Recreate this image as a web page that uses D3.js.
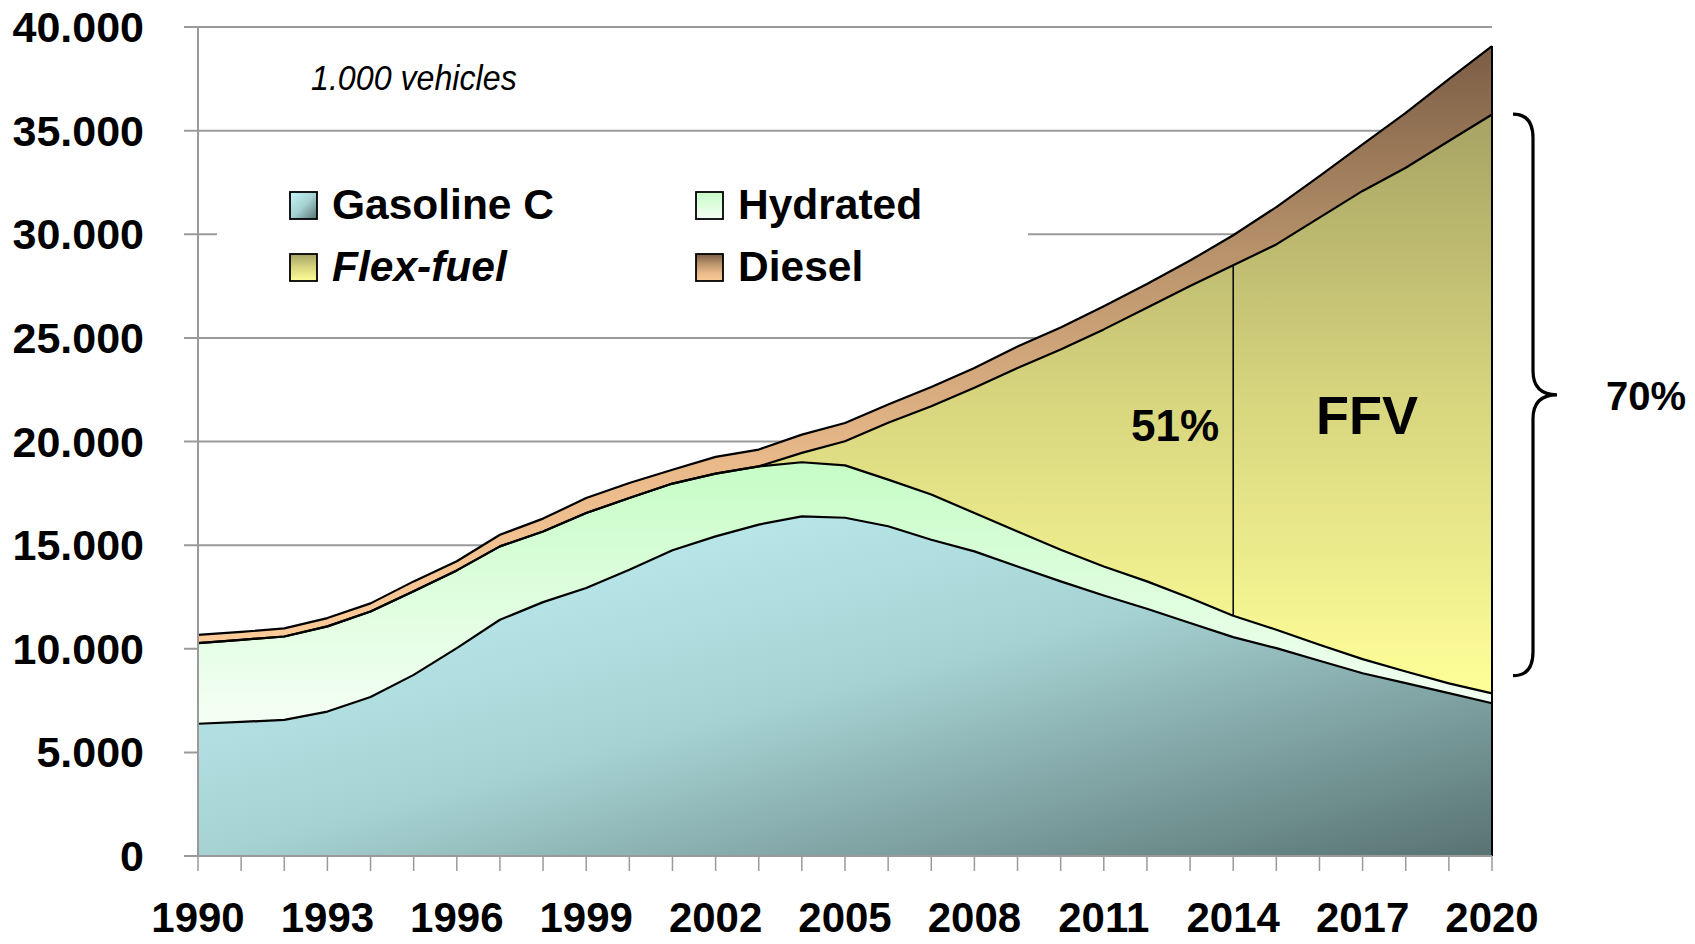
<!DOCTYPE html>
<html>
<head>
<meta charset="utf-8">
<script src="https://cdn.jsdelivr.net/npm/d3@7"></script>
<style>
  html, body { margin: 0; padding: 0; background: #fff; }
  svg { display: block; }
  text { font-family: "Liberation Sans", Arial, sans-serif; }
</style>
</head>
<body>
<svg id="chart" width="1695" height="944"></svg>
<script>
// ---- data (1.000 vehicles) ----
const years = [1990,1991,1992,1993,1994,1995,1996,1997,1998,1999,2000,2001,2002,2003,2004,2005,
               2006,2007,2008,2009,2010,2011,2012,2013,2014,2015,2016,2017,2018,2019,2020];
const gasolineC = [6380,6470,6570,6970,7670,8740,10030,11400,12250,12930,13810,14750,15420,15990,16390,16320,
                   15910,15260,14700,13970,13250,12570,11930,11240,10560,10030,9420,8820,8340,7860,7370];
const hydrated  = [3890,3960,4020,4110,4130,4030,3750,3540,3410,3620,3460,3220,3030,2810,2610,2530,
                   2250,2180,1850,1690,1530,1400,1320,1210,1030,890,770,680,560,470,480];
const flexFuel  = [0,0,0,0,0,0,0,0,0,0,0,0,0,0,450,1160,
                   2740,4260,6040,7890,9660,11440,13200,15050,16910,18590,20610,22590,24310,26170,27930];
const diesel    = [400,380,390,400,390,480,440,560,620,720,730,670,810,810,880,880,
                   880,930,960,1030,1060,1120,1150,1230,1450,1800,2000,2250,2650,2980,3300];
const seriesNames = ["Gasoline C", "Hydrated", "Flex-fuel", "Diesel"];
const yTicks = [0,5000,10000,15000,20000,25000,30000,35000,40000];
const xLabelYears = [1990,1993,1996,1999,2002,2005,2008,2011,2014,2017,2020];
const unitLabel = "1.000 vehicles";
const shareLabel2014 = "51%";
const ffvLabel = "FFV";
const shareLabel2020 = "70%";
const braceRange = [8700, 35800];

// ---- setup ----
const svg = d3.select("#chart");
const x = d3.scaleLinear().domain([1990, 2020]).range([198, 1492]);
const y = d3.scaleLinear().domain([0, 40000]).range([856, 27]);
const fmt = v => v === 0 ? "0" : d3.format(",")(v).replace(/,/g, ".");

const rows = years.map((yr, i) => ({
  year: yr, "Gasoline C": gasolineC[i], "Hydrated": hydrated[i],
  "Flex-fuel": flexFuel[i], "Diesel": diesel[i]
}));
const stack = d3.stack().keys(seriesNames)(rows);

// ---- gradients ----
const defs = svg.append("defs");
function grad(id, x2, y2, stops) {
  const g = defs.append("linearGradient").attr("id", id)
    .attr("x1", 0).attr("y1", 0).attr("x2", x2).attr("y2", y2);
  stops.forEach(s => g.append("stop").attr("offset", s[0]).attr("stop-color", s[1]));
}
grad("gGas", 1, 1, [[0, "#c6f6f9"], [0.5, "#a6d2d3"], [1, "#587272"]]);
grad("gHyd", 0, 1, [[0, "#c6fcc6"], [1, "#f5fff5"]]);
grad("gFlex", 0, 1, [[0, "#a6a364"], [0.5, "#d8d67e"], [1, "#ffff99"]]);
grad("gDie", 0, 1, [[0, "#7b5d45"], [0.35, "#b8936b"], [0.7, "#e9b98a"], [1, "#fccb98"]]);
const fills = ["url(#gGas)", "url(#gHyd)", "url(#gFlex)", "url(#gDie)"];

// ---- gridlines ----
const gridColor = "#9a9a9a";
svg.append("g").selectAll("line").data(yTicks).join("line")
  .attr("x1", 184).attr("x2", x(2020))
  .attr("y1", d => y(d)).attr("y2", d => y(d))
  .attr("stroke", gridColor).attr("stroke-width", 2);

// ---- areas ----
const area = d3.area().x(d => x(d.data.year)).y0(d => y(d[0])).y1(d => y(d[1]));
const line = d3.line().x(d => x(d.data.year)).y(d => y(d[1]));
svg.append("g").selectAll("path").data(stack).join("path")
  .attr("d", area).attr("fill", (d, i) => fills[i]);
svg.append("g").selectAll("path").data(stack).join("path")
  .attr("d", line).attr("fill", "none").attr("stroke", "#000")
  .attr("stroke-width", 2.2).attr("stroke-linejoin", "round");
// right edge
const last = years.length - 1;
svg.append("line").attr("x1", x(2020)).attr("x2", x(2020))
  .attr("y1", y(0)).attr("y2", y(stack[3][last][1]))
  .attr("stroke", "#000").attr("stroke-width", 2);

// ---- axes ----
svg.append("line").attr("x1", x(1990)).attr("x2", x(1990))
  .attr("y1", y(40000)).attr("y2", y(0) + 1)
  .attr("stroke", gridColor).attr("stroke-width", 2);
svg.append("line").attr("x1", 184).attr("x2", x(2020))
  .attr("y1", y(0)).attr("y2", y(0))
  .attr("stroke", gridColor).attr("stroke-width", 2);
svg.append("g").selectAll("line").data(years).join("line")
  .attr("x1", d => x(d)).attr("x2", d => x(d))
  .attr("y1", y(0)).attr("y2", y(0) + 15)
  .attr("stroke", gridColor).attr("stroke-width", 1.5);

svg.append("g").selectAll("text").data(yTicks).join("text")
  .attr("x", 144).attr("y", d => y(d) + 15)
  .attr("text-anchor", "end").attr("font-size", 43).attr("font-weight", "bold")
  .text(fmt);
svg.append("g").selectAll("text").data(xLabelYears).join("text")
  .attr("x", d => x(d)).attr("y", 932)
  .attr("text-anchor", "middle").attr("font-size", 42).attr("font-weight", "bold")
  .text(d => d);

// ---- unit label ----
svg.append("text").attr("x", 311).attr("y", 90)
  .attr("font-size", 35).attr("font-style", "italic")
  .attr("transform", "translate(311,0) scale(0.92,1) translate(-311,0)")
  .text(unitLabel);

// ---- legend ----
svg.append("rect").attr("x", 217).attr("y", 142).attr("width", 811).attr("height", 183).attr("fill", "#fff");
const legendPos = [[290, 219], [696, 219], [290, 281], [696, 281]];
const lg = svg.append("g").selectAll("g").data(seriesNames).join("g")
  .attr("transform", (d, i) => `translate(${legendPos[i][0]},${legendPos[i][1]})`);
lg.append("rect").attr("x", 0).attr("y", -27).attr("width", 27).attr("height", 27)
  .attr("fill", (d, i) => fills[i]).attr("stroke", "#000").attr("stroke-width", 1.8);
lg.append("text").attr("x", 42).attr("y", 0)
  .attr("font-size", 42.5).attr("font-weight", "bold")
  .attr("font-style", d => d === "Flex-fuel" ? "italic" : "normal")
  .text(d => d);

// ---- 2014 marker and labels ----
const i2014 = years.indexOf(2014);
svg.append("line").attr("x1", x(2014)).attr("x2", x(2014))
  .attr("y1", y(stack[2][i2014][1])).attr("y2", y(stack[2][i2014][0]))
  .attr("stroke", "#000").attr("stroke-width", 1.5);
svg.append("text").attr("x", x(2014) - 14).attr("y", 441)
  .attr("text-anchor", "end").attr("font-size", 44).attr("font-weight", "bold")
  .text(shareLabel2014);
svg.append("text").attr("x", x(2017.1)).attr("y", 434)
  .attr("text-anchor", "middle").attr("font-size", 54).attr("font-weight", "bold")
  .text(ffvLabel);

// ---- brace + 70% ----
const bTop = y(braceRange[1]), bBot = y(braceRange[0]), bMid = (bTop + bBot) / 2;
const x0 = 1513, xs = 1533, xp = 1557, r = 24;
const bp = `M${x0},${bTop} Q${xs},${bTop} ${xs},${bTop + r} L${xs},${bMid - r} Q${xs},${bMid} ${xp},${bMid}` +
           ` Q${xs},${bMid} ${xs},${bMid + r} L${xs},${bBot - r} Q${xs},${bBot} ${x0},${bBot}`;
svg.append("path").attr("d", bp).attr("fill", "none").attr("stroke", "#000").attr("stroke-width", 3.2);
svg.append("text").attr("x", 1646).attr("y", bMid + 15)
  .attr("text-anchor", "middle").attr("font-size", 40).attr("font-weight", "bold")
  .text(shareLabel2020);
</script>
</body>
</html>
